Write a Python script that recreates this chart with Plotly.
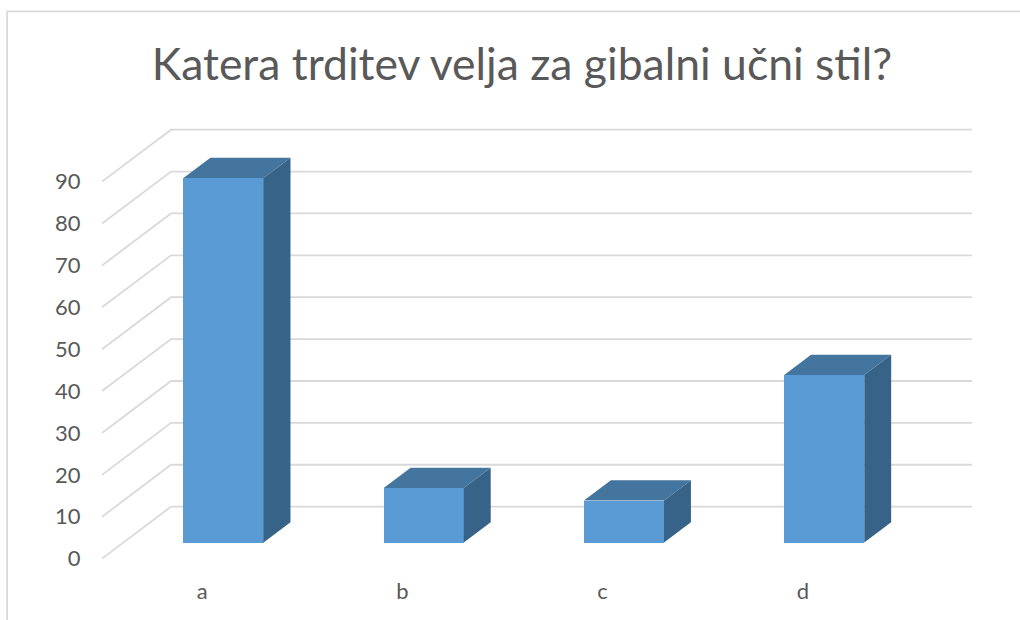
import plotly.graph_objects as go

categories = ["a", "b", "c", "d"]
values = [87, 13, 10, 40]
y_ticks = [0, 10, 20, 30, 40, 50, 60, 70, 80, 90]
title_text = "Katera trditev velja za gibalni učni stil?"

# Oblique projection: depth d in 0..1 shifts a point right and upward, in axis units
DEPTH_X = 0.3447
DEPTH_Y = 12.41
BAR_FRONT = 0.31
BAR_BACK = 0.70
BAR_HALF = 0.2

X_RANGE = [-0.55, 3.85]
Y_RANGE = [-2, 104]
PX_X = 200.2
PX_Y = 4.19
LEFT = 202.5 + X_RANGE[0] * PX_X
BOTTOM = 559 + 2 * PX_Y
WIDTH = (X_RANGE[1] - X_RANGE[0]) * PX_X
HEIGHT = (Y_RANGE[1] - Y_RANGE[0]) * PX_Y
TOP = BOTTOM - HEIGHT

GRID = "#D9D9D9"
TEXT = "#595959"
FRONT = "#5B9BD5"
TOP_FACE = "#44759F"
SIDE_FACE = "#386389"


def project(x, v, d):
    return x + d * DEPTH_X, v + d * DEPTH_Y


xs = list(range(len(categories)))
fig = go.Figure()

fig.add_trace(go.Bar(
    x=[project(i, 0, BAR_FRONT)[0] for i in xs],
    y=values,
    base=[BAR_FRONT * DEPTH_Y] * len(values),
    width=2 * BAR_HALF,
    marker=dict(color=FRONT, line=dict(width=0)),
    showlegend=False,
))

for i, v in zip(xs, values):
    l, r = i - BAR_HALF, i + BAR_HALF
    top = [project(l, v, BAR_FRONT), project(r, v, BAR_FRONT),
           project(r, v, BAR_BACK), project(l, v, BAR_BACK)]
    side = [project(r, 0, BAR_FRONT), project(r, v, BAR_FRONT),
            project(r, v, BAR_BACK), project(r, 0, BAR_BACK)]
    for pts, col in ((top, TOP_FACE), (side, SIDE_FACE)):
        fig.add_trace(go.Scatter(
            x=[p[0] for p in pts], y=[p[1] for p in pts],
            mode="lines", fill="toself", fillcolor=col,
            line=dict(width=0, color=col), showlegend=False, hoverinfo="skip",
        ))

shapes = []
for t in y_ticks:
    x0, y0 = project(-0.5, t, 0)
    x1, y1 = project(-0.5, t, 1)
    x2 = 3.5 + DEPTH_X
    shapes.append(dict(
        type="path", layer="below", xref="x", yref="y",
        path=f"M {x0} {y0} L {x1} {y1} L {x2} {y1}",
        line=dict(color=GRID, width=1.8),
    ))

# chart frame, open towards right and bottom (image-edge crop of the original)
fx = (7.5 - LEFT) / WIDTH
fy = 1 + (TOP - 11.5) / HEIGHT
shapes.append(dict(
    type="path", layer="below", xref="paper", yref="paper",
    path=f"M {fx} -1 L {fx} {fy} L 2 {fy}",
    line=dict(color=GRID, width=1.8),
))

fig.update_layout(
    width=1020, height=620,
    autosize=False,
    margin=dict(l=LEFT, r=1020 - LEFT - WIDTH, t=TOP, b=620 - BOTTOM, pad=0),
    paper_bgcolor="white", plot_bgcolor="white",
    font=dict(family="Lato", color=TEXT, size=22),
    title=dict(text=title_text, x=522 / 1020, xanchor="center", xref="container",
               y=1 - 64 / 620, yanchor="middle",
               font=dict(family="Lato", size=44.5, color=TEXT)),
    shapes=shapes,
    showlegend=False,
    bargap=0,
    xaxis=dict(range=X_RANGE, tickmode="array", tickvals=xs, ticktext=categories,
               showgrid=False, zeroline=False, showline=False,
               ticks="outside", ticklen=5, tickcolor="rgba(0,0,0,0)",
               tickfont=dict(size=22, color=TEXT)),
    yaxis=dict(range=Y_RANGE, tickmode="array", tickvals=y_ticks,
               showgrid=False, zeroline=False, showline=False,
               ticks="outside", ticklen=6, tickcolor="rgba(0,0,0,0)",
               tickfont=dict(size=22, color=TEXT)),
)

fig.write_html("out.html", config={"displayModeBar": False},
               post_script="document.body.style.margin='0';document.body.style.overflow='hidden';")
